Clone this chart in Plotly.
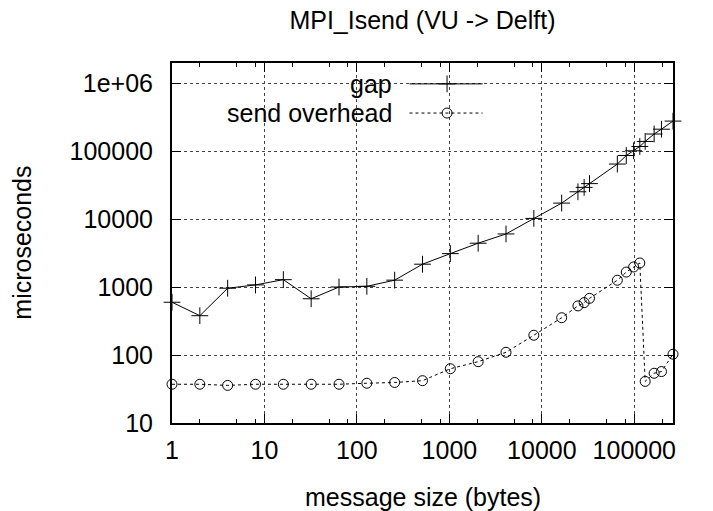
import math
import plotly.graph_objects as go

# Message sizes in bytes
msg_size = [1, 2, 4, 8, 16, 32, 64, 128, 256, 512, 1024, 2048, 4096, 8192,
            16384, 24576, 28672, 32768, 65536, 81920, 98304, 114688,
            131072, 163840, 196608, 262144]

# Measured times in microseconds
gap = [600, 380, 965, 1080, 1290, 675, 1005, 1030, 1268, 2180, 3120, 4440,
       6080, 10300, 17300, 25400, 29500, 33500, 65000, 86800, 102000,
       118000, 140000, 180000, 212000, 279000]
send_overhead = [37.2, 37.2, 35.8, 37.2, 37.2, 37.2, 37.2, 38.5, 39.5, 42,
                 63, 80, 110, 196, 355, 530, 592, 685, 1265, 1670, 1985,
                 2270, 41, 54, 57.2, 103]

x_ticks = [1, 10, 100, 1000, 10000, 100000]
x_tick_labels = ["1", "10", "100", "1000", "10000", "100000"]
y_ticks = [10, 100, 1000, 10000, 100000, 1000000]
y_tick_labels = ["10", "100", "1000", "10000", "100000", "1e+06"]
x_minor = [m * 10 ** d for d in range(6) for m in (2, 5, 8) if m * 10 ** d <= 262144]

FONT = "Liberation Sans, Arial, Helvetica, sans-serif"
FS = 25

fig = go.Figure()

fig.add_trace(go.Scatter(
    x=msg_size, y=gap, mode="lines+markers", name="gap",
    line=dict(color="black", width=1),
    marker=dict(symbol="cross-thin-open", size=12,
                line=dict(color="black", width=1)),
    cliponaxis=False, showlegend=False))

fig.add_trace(go.Scatter(
    x=msg_size, y=send_overhead, mode="lines+markers", name="send overhead",
    line=dict(color="black", width=1, dash="dot"),
    marker=dict(symbol="circle-open", size=10, color="black",
                line=dict(color="black", width=1)),
    cliponaxis=False, showlegend=False))

# Key drawn on an overlay axis spanning [0, 1] in both directions
key_rows = [("gap", 0.942, "solid", "cross-thin-open", 12),
            ("send overhead", 0.861, "dot", "circle-open", 10)]
for label, ky, dash, sym, msize in key_rows:
    fig.add_trace(go.Scatter(
        x=[0.474, 0.62], y=[ky, ky], mode="lines", xaxis="x2", yaxis="y2",
        line=dict(color="black", width=1, dash=dash),
        showlegend=False, hoverinfo="skip"))
    fig.add_trace(go.Scatter(
        x=[0.549], y=[ky], mode="markers", xaxis="x2", yaxis="y2",
        marker=dict(symbol=sym, size=msize, color="black",
                    line=dict(color="black", width=1)),
        showlegend=False, hoverinfo="skip"))
    fig.add_annotation(x=0.443, y=ky, xref="paper", yref="paper",
                       text=label, showarrow=False, xanchor="right",
                       yanchor="middle",
                       font=dict(family=FONT, size=FS, color="black"))

# White key background over the grid
fig.add_shape(type="rect", xref="paper", yref="paper",
              x0=0.027, x1=0.652, y0=0.82, y1=1.0,
              fillcolor="white", line=dict(width=0), layer="between")

# Axis titles
fig.add_annotation(x=-0.3, y=0.5, xref="paper", yref="paper",
                   text="microseconds", textangle=-90, showarrow=False,
                   xanchor="center", yanchor="middle",
                   font=dict(family=FONT, size=FS, color="black"))
fig.add_annotation(x=0.5, y=-0.205, xref="paper", yref="paper",
                   text="message size (bytes)", showarrow=False,
                   xanchor="center", yanchor="middle",
                   font=dict(family=FONT, size=FS, color="black"))

axis_common = dict(
    showline=True, linecolor="black", linewidth=2, mirror="allticks",
    ticks="inside", ticklen=9, tickcolor="black", tickwidth=1,
    showgrid=True, gridcolor="#444444", griddash="dot", gridwidth=1,
    zeroline=False,
    tickfont=dict(family=FONT, size=FS, color="black"),
)

fig.update_layout(
    width=713, height=511,
    margin=dict(l=172, r=40, t=63, b=88),
    paper_bgcolor="white", plot_bgcolor="white",
    title=dict(text="MPI_Isend (VU -> Delft)", x=0.5925, xanchor="center",
               y=0.961, yanchor="middle",
               font=dict(family=FONT, size=FS, color="black")),
    xaxis=dict(type="log", range=[0, math.log10(262144)],
               tickmode="array", tickvals=x_ticks, ticktext=x_tick_labels,
               minor=dict(tickmode="array", tickvals=x_minor, ticks="inside",
                          ticklen=4, tickcolor="black", tickwidth=1,
                          showgrid=False),
               ticklabelstandoff=4,
               **axis_common),
    yaxis=dict(type="log", range=[1, math.log10(2e6)],
               tickmode="array", tickvals=y_ticks, ticktext=y_tick_labels,
               ticklabelstandoff=12,
               **axis_common),
    xaxis2=dict(overlaying="x", range=[0, 1], visible=False),
    yaxis2=dict(overlaying="y", range=[0, 1], visible=False),
)

fig.write_html("out.html")
